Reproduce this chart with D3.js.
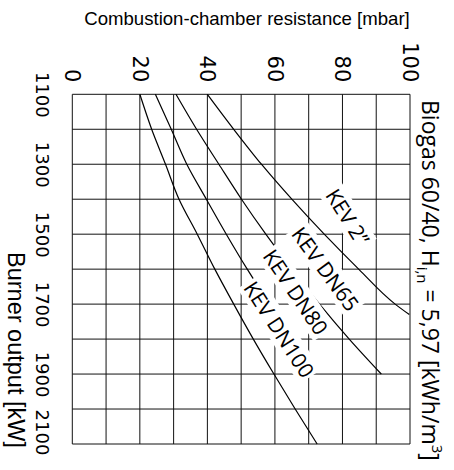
<!DOCTYPE html>
<html>
<head>
<meta charset="utf-8">
<script src="https://cdn.jsdelivr.net/npm/d3@7/dist/d3.min.js"></script>
<style>
body { margin: 0; background: #fff; }
</style>
</head>
<body>
<script>
// axis ticks and grid
var outputTicks = [1100, 1300, 1500, 1700, 1900, 2100];
var resistTicks = [0, 20, 40, 60, 80, 100];
var gridOutput = [1100, 1200, 1300, 1400, 1500, 1600, 1700, 1800, 1900, 2000, 2100];
var gridResist = [0, 10, 20, 30, 40, 50, 60, 70, 80, 90, 100];

// curves
var kev2Output = [1100, 1200, 1300, 1400, 1500, 1600, 1700, 1730];
var kev2Resist = [40, 47.8, 56, 65, 74.6, 84.8, 95.6, 99.8];
var dn65Output = [1100, 1200, 1300, 1400, 1500, 1600, 1700, 1800, 1900];
var dn65Resist = [30.7, 36.8, 43.4, 50.1, 57.3, 65, 73.2, 82, 91.5];
var dn80Output = [1100, 1200, 1300, 1400, 1500, 1600, 1700, 1800, 1850];
var dn80Resist = [24.6, 29.3, 33.9, 39.7, 45.6, 51.8, 58.5, 65.6, 69.2];
var dn100Output = [1100, 1200, 1300, 1400, 1500, 1600, 1700, 1800, 1900, 2000, 2100];
var dn100Resist = [20, 23.5, 27.6, 31.6, 37, 42.2, 47.8, 53.6, 59.7, 66, 72.5];
var seriesNames = ["KEV 2\u201d", "KEV DN65", "KEV DN80", "KEV DN100"];

var series = [
  {name: seriesNames[0], out: kev2Output, res: kev2Resist},
  {name: seriesNames[1], out: dn65Output, res: dn65Resist},
  {name: seriesNames[2], out: dn80Output, res: dn80Resist},
  {name: seriesNames[3], out: dn100Output, res: dn100Resist}
];

// where the curve names sit (output, resistance, angle on screen)
var labelPos = [
  {q: 1451, r: 81.6, a: 58},
  {q: 1599, r: 75, a: 54},
  {q: 1665, r: 66.2, a: 56},
  {q: 1772, r: 61.3, a: 57}
];

var W = 349.7, H = 337.7;

var svg = d3.select("body").append("svg")
    .attr("width", 454)
    .attr("height", 470);

// chart is drawn upright then turned a quarter turn clockwise
var g = svg.append("g")
    .attr("transform", "translate(410,94.3) rotate(90)");

var x = d3.scaleLinear().domain([1100, 2100]).range([0, W]);
var y = d3.scaleLinear().domain([0, 100]).range([H, 0]);

g.selectAll(".vgrid")
    .data(gridOutput)
    .enter().append("line")
    .attr("x1", function(d){ return x(d); })
    .attr("x2", function(d){ return x(d); })
    .attr("y1", 0)
    .attr("y2", H)
    .attr("stroke", "#111")
    .attr("stroke-width", 1);

g.selectAll(".hgrid")
    .data(gridResist)
    .enter().append("line")
    .attr("y1", function(d){ return y(d); })
    .attr("y2", function(d){ return y(d); })
    .attr("x1", 0)
    .attr("x2", W)
    .attr("stroke", "#111")
    .attr("stroke-width", 1);

var xAxis = g.append("g")
    .attr("transform", "translate(0," + H + ")")
    .call(d3.axisBottom(x).tickValues(outputTicks).tickSize(0).tickPadding(24).tickFormat(d3.format("d")));
xAxis.select(".domain").remove();
xAxis.selectAll("text")
    .attr("font-family", "DejaVu Sans")
    .attr("font-size", 18)
    .attr("fill", "#000")
    .attr("dx", function(d){ return d == 2100 ? -12 : 0; });

var yAxis = g.append("g")
    .call(d3.axisLeft(y).tickValues(resistTicks).tickSize(0).tickPadding(12));
yAxis.select(".domain").remove();
yAxis.selectAll("text")
    .attr("font-family", "DejaVu Sans")
    .attr("font-size", 21)
    .attr("fill", "#000");

var line = d3.line()
    .x(function(d){ return x(d[0]); })
    .y(function(d){ return y(d[1]); })
    .curve(d3.curveMonotoneX);

g.selectAll(".curve")
    .data(series)
    .enter().append("path")
    .attr("d", function(s){ return line(s.out.map(function(q, i){ return [q, s.res[i]]; })); })
    .attr("fill", "none")
    .attr("stroke", "#000")
    .attr("stroke-width", 1.2);

// curve names on white boxes
series.forEach(function(s, i){
  var p = labelPos[i];
  var lg = g.append("g")
      .attr("transform", "translate(" + x(p.q) + "," + y(p.r) + ") rotate(" + (p.a - 90) + ")");
  var t = lg.append("text")
      .attr("text-anchor", "middle")
      .attr("dominant-baseline", "central")
      .attr("font-family", "Open Sans")
      .attr("font-size", 21)
      .text(s.name);
  var b = t.node().getBBox();
  lg.insert("rect", "text")
      .attr("x", b.x - 2)
      .attr("y", b.y + 1)
      .attr("width", b.width + 4)
      .attr("height", b.height - 2)
      .attr("fill", "#fff");
});

// titles
svg.append("text")
    .attr("x", 247)
    .attr("y", 25)
    .attr("text-anchor", "middle")
    .attr("font-family", "Liberation Sans")
    .attr("font-size", 18.6)
    .text("Combustion-chamber resistance [mbar]");

svg.append("text")
    .attr("transform", "translate(8,350) rotate(90)")
    .attr("text-anchor", "middle")
    .attr("font-family", "Liberation Sans")
    .attr("font-size", 23.5)
    .text("Burner output [kW]");

var title = svg.append("text")
    .attr("transform", "translate(422,100) rotate(90)")
    .attr("font-family", "Open Sans")
    .attr("font-size", 23);
title.append("tspan").text("Biogas 60/40, H");
title.append("tspan").attr("font-size", 15).attr("dy", 5).text("i,n");
title.append("tspan").attr("dy", -5).text(" = 5,97 [kWh/m");
title.append("tspan").attr("font-size", 15).attr("dy", -10).text("3");
title.append("tspan").attr("dy", 10).text("]");
</script>
</body>
</html>
